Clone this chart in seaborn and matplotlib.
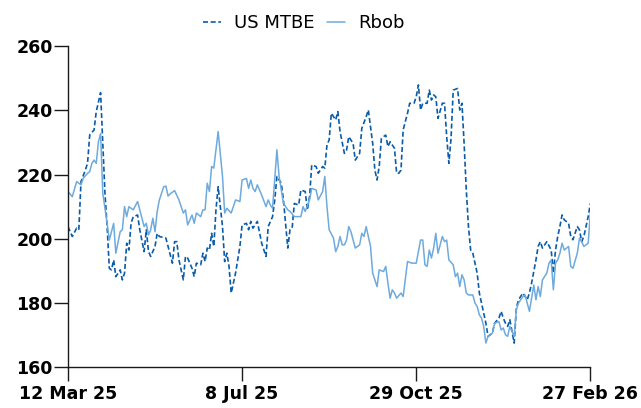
import matplotlib
matplotlib.use("Agg")
import matplotlib.pyplot as plt
import seaborn as sns
import pandas as pd

# trading day number (0 = 12 Mar 25) and price
mtbe_day = [0, 2, 4, 5, 6, 8, 9, 10, 12, 13, 15, 16, 17, 18, 19, 20, 21, 22, 24, 25,
            26, 27, 28, 29, 30, 32, 33, 35, 36, 37, 38, 40, 41, 42, 45, 46, 48, 49, 50, 51,
            53, 54, 55, 57, 58, 59, 61, 62, 63, 64, 65, 66, 67, 68, 69, 71, 72, 73, 74, 75,
            77, 79, 80, 82, 83, 84, 85, 87, 89, 90, 91, 92, 94, 95, 96, 98, 99, 101, 102, 103,
            104, 106, 107, 109, 110, 111, 112, 114, 115, 117, 118, 119, 120, 121, 123, 124, 125, 127, 128, 129,
            131, 132, 134, 135, 137, 138, 140, 141, 142, 143, 144, 146, 147, 148, 150, 151, 152, 153, 154, 156,
            157, 159, 160, 161, 162, 163, 165, 166, 167, 168, 169, 170, 172, 173, 174, 175, 176, 177, 179, 180,
            181, 182, 183, 184, 185, 186, 188, 189, 191, 192, 193, 195, 196, 198, 199, 200, 201, 202, 203, 205,
            206, 207, 209, 211, 212, 213, 215, 216, 217, 218, 220, 222, 223, 224, 225, 226, 227, 228, 230, 231,
            232, 234, 235, 236, 237, 239, 240]
mtbe_val = [203.8, 200.7, 203.3, 202.8, 217.8, 221.4, 223.5, 232.3, 233.9, 239.6, 245.5, 229.7, 214.2, 203.8, 190.8, 190.3, 193.4, 188.2, 190.3, 187.2,
            189.3, 198.6, 196.5, 204.8, 206.9, 207.4, 202.8, 196.0, 202.8, 196.0, 194.5, 197.6, 201.7, 200.7, 200.2, 197.6, 192.4, 199.1, 199.1, 193.4,
            187.2, 194.5, 194.0, 190.8, 188.2, 192.4, 191.9, 195.5, 192.9, 197.1, 196.5, 201.7, 197.6, 209.0, 216.2, 203.8, 192.9, 195.5, 191.4, 183.1,
            189.3, 197.6, 204.3, 204.8, 202.8, 205.4, 203.3, 205.4, 198.6, 196.5, 194.5, 203.8, 206.9, 212.1, 219.4, 217.3, 212.1, 197.1, 202.8, 203.3,
            211.0, 210.5, 215.2, 214.7, 209.0, 213.1, 223.0, 222.5, 220.4, 222.5, 222.0, 229.2, 230.8, 239.1, 237.0, 239.6, 233.4, 226.6, 227.6, 231.8,
            229.7, 224.5, 226.6, 234.4, 238.0, 240.1, 229.7, 221.4, 218.3, 222.5, 231.3, 232.3, 228.7, 230.2, 228.2, 220.4, 220.4, 221.4, 233.9, 239.1,
            242.2, 242.2, 244.2, 247.9, 240.1, 242.2, 242.2, 246.3, 243.2, 244.8, 244.2, 237.5, 242.2, 242.2, 231.8, 223.5, 231.3, 246.3, 246.8, 240.1,
            242.2, 229.7, 215.2, 203.8, 196.5, 195.5, 189.3, 183.1, 176.9, 173.7, 169.6, 170.6, 173.7, 175.3, 177.4, 175.3, 173.7, 172.7, 174.8, 167.5,
            178.4, 181.0, 183.1, 181.0, 183.1, 186.2, 193.4, 197.6, 199.1, 197.1, 199.1, 196.5, 189.3, 196.5, 200.7, 203.8, 207.4, 205.9, 204.8, 200.7,
            199.7, 203.8, 202.8, 199.1, 200.7, 206.9, 211.0]

rbob_day = [0, 2, 4, 6, 7, 9, 10, 11, 12, 13, 14, 15, 16, 18, 19, 21, 22, 24, 25, 26,
            27, 28, 30, 32, 33, 35, 36, 37, 38, 39, 40, 41, 42, 44, 45, 46, 47, 49, 51, 53,
            54, 55, 57, 58, 59, 61, 62, 63, 64, 65, 66, 67, 68, 69, 71, 72, 73, 75, 77, 79,
            80, 82, 83, 84, 85, 86, 87, 89, 91, 92, 93, 94, 96, 97, 99, 101, 102, 104, 107, 108,
            109, 111, 112, 114, 115, 117, 118, 119, 120, 122, 123, 124, 125, 126, 127, 128, 129, 130, 132, 134,
            135, 136, 137, 139, 140, 142, 143, 145, 146, 147, 148, 149, 150, 151, 153, 154, 156, 158, 160, 162,
            163, 164, 165, 166, 167, 168, 169, 170, 172, 173, 174, 175, 177, 178, 179, 180, 181, 182, 183, 184,
            186, 187, 188, 189, 190, 191, 192, 193, 195, 196, 198, 199, 200, 201, 202, 203, 205, 206, 207, 209,
            210, 211, 212, 213, 214, 215, 216, 217, 218, 220, 221, 222, 223, 224, 225, 226, 227, 228, 230, 231,
            232, 234, 235, 236, 237, 239, 240]
rbob_val = [214.7, 213.1, 217.8, 216.8, 218.8, 220.4, 220.9, 223.5, 224.5, 223.5, 230.2, 232.8, 214.2, 204.8, 199.6, 204.8, 195.5, 202.2, 202.8, 210.0,
            206.9, 210.0, 209.0, 211.6, 209.0, 203.8, 204.8, 201.2, 202.8, 206.4, 202.2, 208.5, 212.1, 216.2, 216.4, 213.3, 214.0, 215.0, 212.1, 208.0,
            209.0, 204.3, 207.4, 204.8, 208.0, 206.9, 209.0, 209.0, 217.3, 214.7, 222.5, 222.0, 227.7, 233.4, 219.4, 208.0, 209.5, 208.0, 212.1, 211.6,
            218.3, 218.8, 215.7, 218.3, 215.7, 214.7, 216.8, 213.6, 210.0, 212.1, 210.5, 209.5, 227.7, 219.4, 211.0, 209.0, 208.5, 206.9, 206.9, 210.0,
            208.5, 212.1, 215.7, 215.2, 212.1, 214.7, 219.4, 210.0, 202.8, 200.2, 196.0, 197.6, 200.7, 198.1, 198.1, 199.6, 203.8, 202.2, 197.1, 198.1,
            201.7, 200.7, 203.8, 197.6, 189.3, 185.1, 190.3, 189.8, 191.4, 186.2, 181.5, 184.1, 183.1, 181.5, 183.1, 182.0, 192.9, 192.4, 192.4, 199.6,
            199.6, 191.9, 191.4, 196.5, 194.0, 197.1, 201.7, 195.5, 200.7, 199.1, 199.6, 193.4, 191.9, 188.2, 189.3, 185.1, 188.8, 187.2, 183.1, 182.5,
            182.5, 180.0, 178.9, 176.3, 175.3, 172.7, 167.5, 169.6, 170.6, 173.7, 174.2, 171.6, 172.2, 170.1, 169.6, 172.7, 169.6, 177.9, 180.0, 182.0,
            182.5, 180.0, 177.4, 181.5, 185.6, 181.0, 185.1, 182.0, 187.2, 189.3, 192.4, 193.4, 184.1, 192.4, 193.4, 195.5, 198.6, 196.5, 197.6, 191.4,
            190.8, 195.5, 200.2, 199.1, 197.6, 198.6, 208.0]

tick_days = [0, 80, 160, 240]
tick_labels = ["12 Mar 25", "8 Jul 25", "29 Oct 25", "27 Feb 26"]

mtbe = pd.DataFrame({"day": mtbe_day, "price": mtbe_val})
rbob = pd.DataFrame({"day": rbob_day, "price": rbob_val})

sns.set_style("ticks")
plt.rcParams["font.family"] = ["DejaVu Sans"]

fig = plt.figure(figsize=(6.41, 4.08), dpi=100)
ax = fig.add_axes([0.106, 0.100, 0.815, 0.787])

sns.lineplot(data=mtbe, x="day", y="price", ax=ax, color="#0b5ca8", lw=1.2,
             dashes=False, label="US MTBE", linestyle=(0, (3, 1.6)))
sns.lineplot(data=rbob, x="day", y="price", ax=ax, color="#6eaadd", lw=1.1,
             label="Rbob")

ax.set_xlim(0, 240)
ax.set_ylim(160, 260)
ax.set_yticks(range(160, 261, 20))
ax.set_xticks(tick_days)
ax.set_xticklabels(tick_labels)
ax.set_xlabel("")
ax.set_ylabel("")
for s in ["top", "right"]:
    ax.spines[s].set_visible(False)
for s in ["left", "bottom"]:
    ax.spines[s].set_color("#1a1a1a")
    ax.spines[s].set_linewidth(1.0)
ax.tick_params(axis="both", length=10, width=1, color="#1a1a1a", labelcolor="black",
               labelsize=12.5)
ax.tick_params(axis="y", pad=1)
ax.tick_params(axis="x", pad=3)
for t in ax.get_xticklabels() + ax.get_yticklabels():
    t.set_fontweight("bold")

ax.get_legend().remove()
h, l = ax.get_legend_handles_labels()
leg = fig.legend(h, l, loc="upper center", bbox_to_anchor=(0.474, 1.005), ncol=2, frameon=False,
                 fontsize=13, handlelength=1.0, columnspacing=0.7, handletextpad=0.7)
for t in leg.get_texts():
    t.set_color("black")

fig.savefig("out.png", dpi=100)
